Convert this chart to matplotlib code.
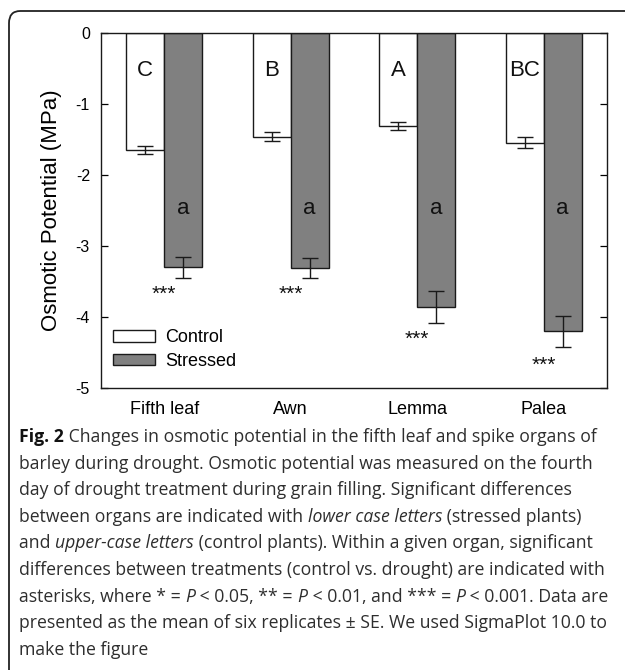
import matplotlib
matplotlib.use("Agg")
import matplotlib.pyplot as plt
import numpy as np
from matplotlib.patches import FancyBboxPatch

# ---- data ----
organs = ["Fifth leaf", "Awn", "Lemma", "Palea"]
control_mean = [-1.65, -1.46, -1.31, -1.545]
control_se = [0.06, 0.06, 0.055, 0.075]
stressed_mean = [-3.30, -3.31, -3.86, -4.20]
stressed_se = [0.145, 0.14, 0.22, 0.22]
upper_letters = ["C", "B", "A", "BC"]
lower_letters = ["a", "a", "a", "a"]
star_labels = ["***", "***", "***", "***"]
star_y = [-3.68, -3.68, -4.31, -4.68]
yticks = [0, -1, -2, -3, -4, -5]

W, H = 625, 670
fig = plt.figure(figsize=(W / 100, H / 100), dpi=100)
fig.patch.set_facecolor("white")

# rounded border box (extends past right/bottom edges)
box = FancyBboxPatch((9 / W, -0.05), 1.2, (H - 11) / H + 0.05,
                     boxstyle="round,pad=0,rounding_size=0.018",
                     transform=fig.transFigure, fill=False,
                     edgecolor="#222222", linewidth=1.3, clip_on=False)
fig.patches.append(box)

ax = fig.add_axes([101 / W, 1 - 388 / H, (607 - 101) / W, (388 - 33) / H])
chart_font = "Liberation Sans"

x = np.arange(len(organs))
bw = 0.30
ax.bar(x - bw / 2, control_mean, bw, color="white", edgecolor="#1a1a1a",
       linewidth=1.0, label="Control", zorder=2)
ax.bar(x + bw / 2, stressed_mean, bw, color="#808080", edgecolor="#1a1a1a",
       linewidth=1.0, label="Stressed", zorder=2)
ax.errorbar(x - bw / 2, control_mean, yerr=control_se, fmt="none",
            ecolor="#1a1a1a", elinewidth=1.0, capsize=5.5, capthick=1.0, zorder=3)
ax.errorbar(x + bw / 2, stressed_mean, yerr=stressed_se, fmt="none",
            ecolor="#1a1a1a", elinewidth=1.0, capsize=5.5, capthick=1.0, zorder=3)

for i in range(len(organs)):
    ax.text(x[i] - bw / 2, -0.53, upper_letters[i], ha="center", va="center",
            fontsize=16, family=chart_font, color="#111111", zorder=4)
    ax.text(x[i] + bw / 2, -2.47, lower_letters[i], ha="center", va="center",
            fontsize=16, family=chart_font, color="#111111", zorder=4)
    ax.text(x[i], star_y[i], star_labels[i], ha="center", va="center",
            fontsize=15, family=chart_font, color="#111111", zorder=4)

ax.set_xlim(-0.5, 3.5)
ax.set_ylim(-5, 0)
ax.set_yticks(yticks)
ax.set_yticklabels([str(t) for t in yticks], family=chart_font, fontsize=11.5)
ax.set_xticks(x)
ax.set_xticklabels(organs, family=chart_font, fontsize=13)
ax.tick_params(axis="x", length=0, pad=9)
ax.tick_params(axis="y", direction="in", length=5, width=0.9, pad=8,
               right=True, left=True)
for s in ax.spines.values():
    s.set_linewidth(1.0)
    s.set_color("#1a1a1a")
ax.set_ylabel("Osmotic Potential (MPa)", family=chart_font, fontsize=16,
              labelpad=10)

leg = ax.legend(loc="upper left", bbox_to_anchor=(0.024, 0.165), frameon=False,
                prop={"family": chart_font, "size": 13}, borderpad=0,
                borderaxespad=0, handlelength=2.3, handleheight=0.6,
                handletextpad=0.6, labelspacing=0.36)

# ---- caption ----
cap_font = "Open Sans"
cs = 12.7
body_c = "#2e2e2e"
caption_lines = [
    [("Fig. 2", "normal", "bold"), (" Changes in osmotic potential in the fifth leaf and spike organs of", "normal", "normal")],
    [("barley during drought. Osmotic potential was measured on the fourth", "normal", "normal")],
    [("day of drought treatment during grain filling. Significant differences", "normal", "normal")],
    [("between organs are indicated with ", "normal", "normal"), ("lower case letters", "italic", "normal"), (" (stressed plants)", "normal", "normal")],
    [("and ", "normal", "normal"), ("upper-case letters", "italic", "normal"), (" (control plants). Within a given organ, significant", "normal", "normal")],
    [("differences between treatments (control vs. drought) are indicated with", "normal", "normal")],
    [("asterisks, where * = ", "normal", "normal"), ("P", "italic", "normal"), (" < 0.05, ** = ", "normal", "normal"),
     ("P", "italic", "normal"), (" < 0.01, and *** = ", "normal", "normal"), ("P", "italic", "normal"),
     (" < 0.001. Data are", "normal", "normal")],
    [("presented as the mean of six replicates \u00b1 SE. We used SigmaPlot 10.0 to", "normal", "normal")],
    [("make the figure", "normal", "normal")],
]
line_y0 = 442
line_dy = 26.6
x0 = 19

renderer = fig.canvas.get_renderer()


def text_width(s, style, weight):
    t1 = fig.text(0, 0, "|" + s + "|", fontsize=cs, family=cap_font, style=style, weight=weight)
    t2 = fig.text(0, 0, "||", fontsize=cs, family=cap_font, style=style, weight=weight)
    w = t1.get_window_extent(renderer).width - t2.get_window_extent(renderer).width
    t1.remove()
    t2.remove()
    return w


for li, pieces in enumerate(caption_lines):
    ypix = line_y0 + li * line_dy
    xp = x0
    for s, style, weight in pieces:
        col = "#111111" if weight == "bold" else body_c
        fig.text(xp / W, 1 - ypix / H, s, ha="left", va="baseline", fontsize=cs,
                 family=cap_font, style=style, weight=weight, color=col)
        xp += text_width(s, style, weight)

fig.savefig("out.png", dpi=100)
